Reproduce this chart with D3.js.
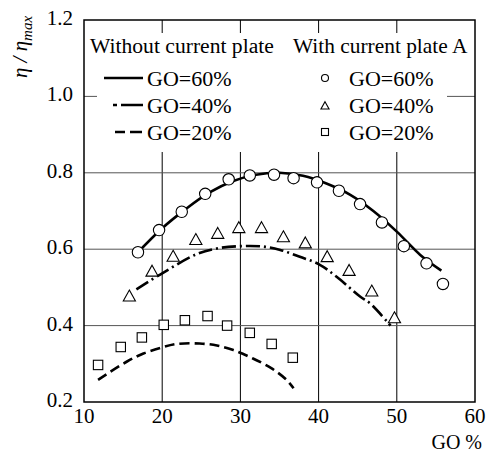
<!DOCTYPE html>
<html><head><meta charset="utf-8">
<script src="https://cdn.jsdelivr.net/npm/d3@7/dist/d3.min.js"></script>
</head><body style="margin:0">
<svg id="c" width="488" height="455"></svg>
<script>
// Data
const xTicks = [10, 20, 30, 40, 50, 60];
const yTicks = [0.2, 0.4, 0.6, 0.8, 1.0, 1.2];

// Measured points (with current plate A)
const circX = [16.9, 19.6, 22.5, 25.5, 28.5, 31.2, 34.3, 36.8, 39.8, 42.6, 45.3, 48.1, 50.9, 53.8, 55.9];
const circY = [0.592, 0.650, 0.698, 0.745, 0.783, 0.793, 0.795, 0.786, 0.775, 0.753, 0.718, 0.670, 0.608, 0.563, 0.509];
const triX = [15.8, 18.7, 21.4, 24.3, 27.1, 29.8, 32.7, 35.5, 38.3, 41.1, 43.9, 46.8, 49.7];
const triY = [0.476, 0.541, 0.580, 0.624, 0.640, 0.655, 0.655, 0.631, 0.615, 0.579, 0.543, 0.489, 0.419];
const sqX = [11.8, 14.7, 17.4, 20.2, 22.9, 25.8, 28.3, 31.2, 34.0, 36.7];
const sqY = [0.297, 0.344, 0.369, 0.402, 0.414, 0.425, 0.400, 0.381, 0.352, 0.316];

// Curves (without current plate)
const line60X = [16.9, 20, 23, 26, 29, 32, 35, 38, 41, 44, 47, 50, 53, 55.7];
const line60Y = [0.592, 0.655, 0.705, 0.748, 0.778, 0.795, 0.800, 0.792, 0.772, 0.743, 0.700, 0.646, 0.585, 0.544];
const line40X = [16.7, 20, 24.4, 27.0, 30, 32.9, 35.1, 37.6, 40, 42.3, 45.3, 46.6, 49.2];
const line40Y = [0.495, 0.537, 0.587, 0.602, 0.608, 0.607, 0.598, 0.580, 0.561, 0.528, 0.476, 0.458, 0.400];
const line20X = [11.8, 12.9, 15.5, 17.6, 20, 21.9, 24.8, 27.0, 29.1, 31.6, 34.0, 35.9, 36.8];
const line20Y = [0.258, 0.273, 0.306, 0.327, 0.343, 0.352, 0.353, 0.348, 0.336, 0.314, 0.288, 0.258, 0.236];

const legendLeftTitle = "Without current plate";
const legendRightTitle = "With current plate A";
const legendLabels = ["GO=60%", "GO=40%", "GO=20%"];

const FONT = "'Liberation Serif'";

const svg = d3.select("#c");
const x = d3.scaleLinear().domain([10, 60]).range([84, 475]);
const y = d3.scaleLinear().domain([0.2, 1.2]).range([402, 20]);

// Grid
svg.append("g").selectAll("line").data(xTicks.slice(1, -1)).join("line")
  .attr("x1", d => x(d)).attr("x2", d => x(d)).attr("y1", y(1.2)).attr("y2", y(0.2))
  .attr("stroke", "#000").attr("stroke-width", 1);
svg.append("g").selectAll("line").data(yTicks.slice(1, -1)).join("line")
  .attr("x1", x(10)).attr("x2", x(60)).attr("y1", d => y(d)).attr("y2", d => y(d))
  .attr("stroke", "#555").attr("stroke-width", 1);

// Legend white background
svg.append("rect").attr("x", 97).attr("y", 33).attr("width", 350).attr("height", 119).attr("fill", "#fff");

// Frame
svg.append("rect").attr("x", x(10)).attr("y", y(1.2)).attr("width", x(60) - x(10)).attr("height", y(0.2) - y(1.2))
  .attr("fill", "none").attr("stroke", "#000").attr("stroke-width", 1.5);

// Tick labels, drawn with the scales
svg.append("g").selectAll("text").data(xTicks).join("text")
  .attr("x", d => x(d)).attr("y", y(0.2) + 21).attr("text-anchor", "middle")
  .attr("font-family", FONT).attr("font-size", 21).text(d3.format("d"));
svg.append("g").selectAll("text").data(yTicks).join("text")
  .attr("x", x(10) - 11).attr("y", d => y(d) + 5).attr("text-anchor", "end")
  .attr("font-family", FONT).attr("font-size", 21).text(d3.format(".1f"));

// Axis titles
svg.append("text").attr("x", 482).attr("y", 449).attr("text-anchor", "end").attr("font-family", FONT).attr("font-size", 20).text("GO %");
const yl = svg.append("text").attr("transform", "translate(27,47) rotate(-90)").attr("text-anchor", "middle")
  .attr("font-family", FONT).attr("font-size", 21).attr("font-style", "italic");
yl.append("tspan").text("η / η");
yl.append("tspan").attr("font-size", 15).attr("dy", 5).text("max");

// Lines
const lineGen = d3.line().x(d => x(d[0])).y(d => y(d[1])).curve(d3.curveCatmullRom);
const zip = (a, b) => a.map((v, i) => [v, b[i]]);
const series = [
  { pts: zip(line60X, line60Y), dash: null },
  { pts: zip(line40X, line40Y), dash: "14,4,2,4" },
  { pts: zip(line20X, line20Y), dash: "10,5" }
];
series.forEach(s => {
  svg.append("path").attr("d", lineGen(s.pts)).attr("fill", "none").attr("stroke", "#000")
    .attr("stroke-width", 2.6).attr("stroke-dasharray", s.dash);
});

// Markers
const triPath = (cx, cy, s) => `M${cx},${cy - s * 0.62}L${cx + s * 0.58},${cy + s * 0.42}L${cx - s * 0.58},${cy + s * 0.42}Z`;
svg.append("g").selectAll("path").data(zip(triX, triY)).join("path")
  .attr("d", d => triPath(x(d[0]), y(d[1]), 10.5)).attr("fill", "#fff").attr("stroke", "#000").attr("stroke-width", 1.1);
svg.append("g").selectAll("rect").data(zip(sqX, sqY)).join("rect")
  .attr("x", d => x(d[0]) - 4.7).attr("y", d => y(d[1]) - 4.7).attr("width", 9.4).attr("height", 9.4)
  .attr("fill", "#fff").attr("stroke", "#000").attr("stroke-width", 1.1);
svg.append("g").selectAll("circle").data(zip(circX, circY)).join("circle")
  .attr("cx", d => x(d[0])).attr("cy", d => y(d[1])).attr("r", 5.7)
  .attr("fill", "#fff").attr("stroke", "#000").attr("stroke-width", 1.1);

// Legend
svg.append("text").attr("x", 90).attr("y", 53).attr("font-family", FONT).attr("font-size", 21.6).text(legendLeftTitle);
svg.append("text").attr("x", 293).attr("y", 53).attr("font-family", FONT).attr("font-size", 21.4).text(legendRightTitle);
const rowY = [86, 113, 140];
const legDash = [{ x1: 104, dash: null }, { x1: 113, dash: "4,4,22" }, { x1: 115, dash: "10,5,12" }];
rowY.forEach((ry, i) => {
  svg.append("line").attr("x1", legDash[i].x1).attr("x2", 143).attr("y1", ry - 8).attr("y2", ry - 8)
    .attr("stroke", "#000").attr("stroke-width", 2.6).attr("stroke-dasharray", legDash[i].dash);
  svg.append("text").attr("x", 147).attr("y", ry).attr("font-family", FONT).attr("font-size", 22).text(legendLabels[i]);
  svg.append("text").attr("x", 349).attr("y", ry).attr("font-family", FONT).attr("font-size", 22).text(legendLabels[i]);
});
const mx = 325;
svg.append("circle").attr("cx", mx).attr("cy", rowY[0] - 8).attr("r", 3.5).attr("fill", "#fff").attr("stroke", "#000").attr("stroke-width", 1.1);
svg.append("path").attr("d", triPath(mx, rowY[1] - 7, 7)).attr("fill", "#fff").attr("stroke", "#000").attr("stroke-width", 1.1);
svg.append("rect").attr("x", mx - 3.5).attr("y", rowY[2] - 11.5).attr("width", 7).attr("height", 7).attr("fill", "#fff").attr("stroke", "#000").attr("stroke-width", 1.1);
</script></body></html>
